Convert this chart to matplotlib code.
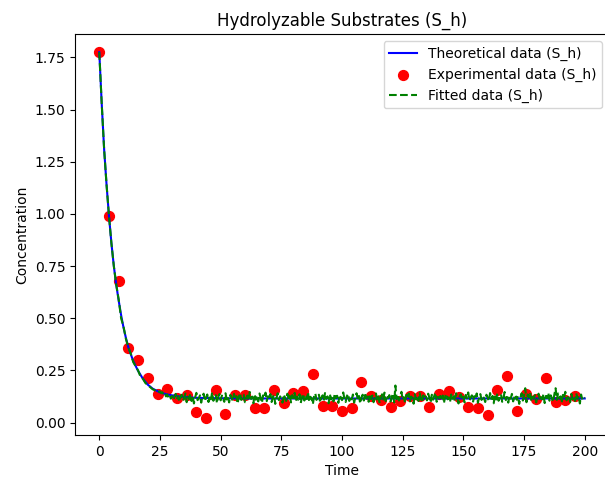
import matplotlib
matplotlib.use("Agg")
import matplotlib.pyplot as plt
import numpy as np

# theoretical curve
theo_t = [0, 1, 2, 3, 4, 5, 6, 7, 8, 9, 10, 11, 12, 14, 16, 18, 20, 22, 25, 28,
          32, 36, 40, 50, 60, 200]
theo_v = [1.775, 1.53, 1.31, 1.14, 0.99, 0.86, 0.75, 0.66, 0.585, 0.515, 0.455,
          0.405, 0.36, 0.295, 0.248, 0.21, 0.182, 0.163, 0.145, 0.135, 0.127,
          0.122, 0.119, 0.117, 0.116, 0.116]

# experimental points, every 4 time units
exp_t = list(range(0, 200, 4))
exp_v = [1.775, 0.99, 0.68, 0.357, 0.30, 0.213, 0.136, 0.160, 0.116, 0.132,
         0.052, 0.021, 0.158, 0.042, 0.135, 0.135, 0.069, 0.070, 0.155, 0.094,
         0.142, 0.153, 0.235, 0.078, 0.078, 0.054, 0.070, 0.193, 0.126, 0.107,
         0.075, 0.102, 0.126, 0.126, 0.075, 0.139, 0.150, 0.121, 0.075, 0.070,
         0.038, 0.155, 0.222, 0.058, 0.139, 0.114, 0.214, 0.099, 0.110, 0.126]

# fitted (noisy) curve: decay part at t = 0..24, then flat noisy part at t = 25..200 every 0.5
fit_t_early = list(range(0, 25))
fit_v_early = [1.775, 1.53, 1.31, 1.14, 0.99, 0.86, 0.75, 0.66, 0.59, 0.50,
               0.46, 0.40, 0.36, 0.33, 0.29, 0.27, 0.25, 0.22, 0.21, 0.19,
               0.18, 0.17, 0.16, 0.155, 0.145]
fit_t_late = list(np.arange(25, 200.5, 0.5))
fit_v_late = [
    0.150, 0.141, 0.146, 0.133, 0.139, 0.126, 0.135, 0.121, 0.131, 0.115,
    0.128, 0.109, 0.124, 0.138, 0.112, 0.127, 0.101, 0.122, 0.134, 0.106,
    0.119, 0.140, 0.098, 0.125, 0.113, 0.136, 0.104, 0.129, 0.092, 0.121,
    0.143, 0.108, 0.117, 0.131, 0.096, 0.126, 0.139, 0.103, 0.120, 0.135,
    0.099, 0.128, 0.112, 0.145, 0.105, 0.118, 0.132, 0.094, 0.123, 0.137,
    0.107, 0.130, 0.115, 0.100, 0.141, 0.111, 0.126, 0.097, 0.133, 0.119,
    0.104, 0.138, 0.113, 0.127, 0.091, 0.124, 0.142, 0.109, 0.121, 0.134,
    0.098, 0.116, 0.130, 0.106, 0.147, 0.114, 0.125, 0.093, 0.136, 0.110,
    0.129, 0.102, 0.140, 0.117, 0.095, 0.131, 0.120, 0.144, 0.103, 0.127,
    0.112, 0.137, 0.099, 0.123, 0.133, 0.090, 0.118, 0.141, 0.108, 0.126,
    0.115, 0.096, 0.135, 0.121, 0.104, 0.139, 0.111, 0.128, 0.097, 0.132,
    0.118, 0.143, 0.101, 0.125, 0.110, 0.136, 0.094, 0.122, 0.138, 0.106,
    0.130, 0.113, 0.146, 0.100, 0.124, 0.116, 0.089, 0.127, 0.140, 0.109,
    0.121, 0.134, 0.097, 0.119, 0.131, 0.105, 0.142, 0.114, 0.126, 0.093,
    0.137, 0.111, 0.123, 0.102, 0.139, 0.117, 0.129, 0.095, 0.133, 0.120,
    0.108, 0.145, 0.116, 0.099, 0.127, 0.138, 0.104, 0.124, 0.112, 0.135,
    0.096, 0.122, 0.141, 0.110, 0.128, 0.092, 0.119, 0.134, 0.106, 0.143,
    0.115, 0.125, 0.100, 0.137, 0.113, 0.130, 0.098, 0.121, 0.140, 0.107,
    0.126, 0.094, 0.118, 0.136, 0.111, 0.144, 0.103, 0.129, 0.117, 0.132,
    0.101, 0.124, 0.139, 0.097, 0.178, 0.113, 0.135, 0.106, 0.128, 0.148,
    0.109, 0.122, 0.095, 0.133, 0.116, 0.140, 0.102, 0.125, 0.119, 0.091,
    0.137, 0.112, 0.127, 0.104, 0.142, 0.118, 0.098, 0.131, 0.114, 0.126,
    0.107, 0.139, 0.120, 0.096, 0.134, 0.110, 0.128, 0.143, 0.100, 0.123,
    0.117, 0.128, 0.108, 0.130, 0.094, 0.125, 0.138, 0.112, 0.121, 0.099,
    0.135, 0.115, 0.127, 0.103, 0.141, 0.118, 0.092, 0.129, 0.136, 0.110,
    0.124, 0.097, 0.133, 0.116, 0.145, 0.106, 0.120, 0.131, 0.101, 0.127,
    0.113, 0.140, 0.095, 0.122, 0.137, 0.109, 0.126, 0.118, 0.099, 0.134,
    0.119, 0.104, 0.142, 0.114, 0.128, 0.093, 0.132, 0.111, 0.139, 0.105,
    0.125, 0.136, 0.100, 0.117, 0.147, 0.108, 0.123, 0.096, 0.130, 0.115,
    0.138, 0.102, 0.121, 0.134, 0.110, 0.127, 0.090, 0.119, 0.141, 0.106,
    0.129, 0.165, 0.098, 0.135, 0.120, 0.144, 0.103, 0.124, 0.116, 0.132,
    0.097, 0.126, 0.139, 0.108, 0.122, 0.112, 0.137, 0.094, 0.128, 0.118,
    0.143, 0.105, 0.131, 0.115, 0.100, 0.136, 0.165, 0.109, 0.140, 0.117,
    0.126, 0.095, 0.133, 0.119, 0.148, 0.107, 0.121, 0.130, 0.099, 0.138,
    0.112, 0.124, 0.104, 0.141, 0.116, 0.128, 0.092, 0.135, 0.111, 0.122,
    0.118]

fig = plt.figure(figsize=(6.05, 4.84), dpi=100)
ax = fig.add_axes([75 / 605, 49 / 484, 534 / 605, 401 / 484])

ax.plot(theo_t, theo_v, color="blue", label="Theoretical data (S_h)")
ax.scatter(exp_t, exp_v, color="red", s=50, label="Experimental data (S_h)")
ax.plot(fit_t_early + fit_t_late, fit_v_early + fit_v_late, "--", color="green",
        label="Fitted data (S_h)")

ax.set_xlim(-10, 210)
ax.set_ylim(-0.059, 1.862)
ax.set_xticks([0, 25, 50, 75, 100, 125, 150, 175, 200])
ax.set_yticks(np.arange(0, 1.76, 0.25))
ax.set_xlabel("Time")
ax.set_ylabel("Concentration")
ax.set_title("Hydrolyzable Substrates (S_h)")
ax.legend(loc="upper right")

plt.savefig("out.png", dpi=100)
